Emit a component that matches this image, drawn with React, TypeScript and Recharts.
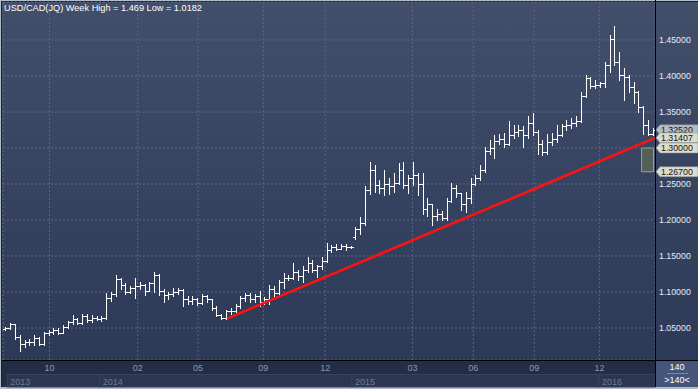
import React from 'react';
import {
  Bar,
  CartesianGrid,
  ComposedChart,
  Line,
  ReferenceArea,
  ReferenceLine,
  XAxis,
  YAxis,
} from 'recharts';

// weekly bars, USD/CAD, Aug 2013 .. Mar 2016
const OPEN = [
  1.048, 1.050, 1.055, 1.038, 1.028, 1.030, 1.031, 1.036, 1.028, 1.043,
  1.044, 1.047, 1.043, 1.052, 1.058, 1.062, 1.057, 1.066, 1.061, 1.064,
  1.063, 1.064, 1.092, 1.097, 1.118, 1.110, 1.100, 1.105, 1.108, 1.110,
  1.102, 1.112, 1.124, 1.102, 1.096, 1.097, 1.100, 1.103, 1.090, 1.087,
  1.090, 1.085, 1.094, 1.090, 1.078, 1.068, 1.064, 1.073, 1.074, 1.080,
  1.091, 1.096, 1.090, 1.094, 1.086, 1.090, 1.104, 1.098, 1.114, 1.120,
  1.119, 1.128, 1.122, 1.130, 1.140, 1.131, 1.136, 1.143, 1.158, 1.162,
  1.160, 1.164, 1.162, 1.176, 1.188, 1.196, 1.241, 1.270, 1.249, 1.245,
  1.250, 1.247, 1.252, 1.270, 1.248, 1.258, 1.262, 1.250, 1.215, 1.222,
  1.205, 1.208, 1.203, 1.226, 1.244, 1.238, 1.222, 1.230, 1.250, 1.258,
  1.270, 1.296, 1.300, 1.310, 1.312, 1.306, 1.318, 1.322, 1.325, 1.318,
  1.335, 1.322, 1.305, 1.294, 1.308, 1.313, 1.318, 1.330, 1.332, 1.335,
  1.338, 1.372, 1.397, 1.386, 1.388, 1.390, 1.415, 1.452, 1.420, 1.402,
  1.398, 1.385, 1.378, 1.357, 1.332, 1.320,
];
const HIGH = [
  1.052, 1.057, 1.056, 1.040, 1.034, 1.035, 1.040, 1.038, 1.045, 1.047,
  1.050, 1.050, 1.054, 1.060, 1.068, 1.064, 1.070, 1.070, 1.068, 1.066,
  1.067, 1.098, 1.100, 1.123, 1.120, 1.112, 1.109, 1.120, 1.114, 1.111,
  1.114, 1.128, 1.125, 1.104, 1.100, 1.105, 1.106, 1.104, 1.095, 1.094,
  1.091, 1.097, 1.096, 1.090, 1.080, 1.069, 1.075, 1.078, 1.083, 1.094,
  1.099, 1.098, 1.097, 1.101, 1.093, 1.110, 1.109, 1.117, 1.126, 1.124,
  1.140, 1.131, 1.136, 1.148, 1.144, 1.138, 1.148, 1.168, 1.165, 1.166,
  1.166, 1.166, 1.164, 1.190, 1.204, 1.247, 1.281, 1.276, 1.255, 1.269,
  1.258, 1.265, 1.279, 1.281, 1.262, 1.281, 1.265, 1.265, 1.230, 1.222,
  1.215, 1.212, 1.230, 1.251, 1.249, 1.238, 1.239, 1.258, 1.262, 1.276,
  1.302, 1.311, 1.318, 1.320, 1.321, 1.337, 1.332, 1.332, 1.331, 1.344,
  1.348, 1.325, 1.311, 1.320, 1.321, 1.332, 1.334, 1.339, 1.342, 1.344,
  1.378, 1.401, 1.399, 1.394, 1.392, 1.420, 1.457, 1.469, 1.434, 1.411,
  1.401, 1.392, 1.379, 1.358, 1.339, 1.328,
];
const LOW = [
  1.047, 1.049, 1.035, 1.018, 1.024, 1.027, 1.027, 1.026, 1.026, 1.040,
  1.041, 1.041, 1.043, 1.050, 1.056, 1.055, 1.056, 1.058, 1.059, 1.061,
  1.060, 1.062, 1.088, 1.095, 1.104, 1.097, 1.099, 1.092, 1.104, 1.096,
  1.101, 1.100, 1.096, 1.086, 1.090, 1.094, 1.097, 1.081, 1.083, 1.084,
  1.082, 1.084, 1.086, 1.075, 1.066, 1.062, 1.062, 1.070, 1.072, 1.078,
  1.088, 1.086, 1.086, 1.080, 1.084, 1.083, 1.095, 1.097, 1.105, 1.116,
  1.118, 1.117, 1.114, 1.128, 1.128, 1.121, 1.132, 1.142, 1.155, 1.158,
  1.160, 1.158, 1.161, 1.174, 1.180, 1.193, 1.236, 1.239, 1.237, 1.235,
  1.236, 1.239, 1.250, 1.245, 1.237, 1.248, 1.235, 1.209, 1.205, 1.193,
  1.200, 1.200, 1.200, 1.225, 1.232, 1.214, 1.211, 1.224, 1.248, 1.256,
  1.266, 1.292, 1.286, 1.305, 1.302, 1.304, 1.314, 1.316, 1.302, 1.314,
  1.318, 1.292, 1.290, 1.292, 1.304, 1.309, 1.317, 1.325, 1.328, 1.330,
  1.336, 1.371, 1.383, 1.383, 1.385, 1.385, 1.406, 1.415, 1.394, 1.367,
  1.378, 1.362, 1.350, 1.320, 1.318, 1.318,
];
const CLOSE = [
  1.050, 1.055, 1.038, 1.028, 1.030, 1.031, 1.036, 1.028, 1.043, 1.044,
  1.047, 1.043, 1.052, 1.058, 1.062, 1.057, 1.066, 1.061, 1.064, 1.063,
  1.064, 1.092, 1.097, 1.118, 1.110, 1.100, 1.105, 1.108, 1.110, 1.102,
  1.112, 1.124, 1.102, 1.096, 1.097, 1.100, 1.103, 1.090, 1.087, 1.090,
  1.085, 1.094, 1.090, 1.078, 1.068, 1.064, 1.073, 1.074, 1.080, 1.091,
  1.096, 1.090, 1.094, 1.086, 1.090, 1.104, 1.098, 1.114, 1.120, 1.119,
  1.128, 1.122, 1.130, 1.140, 1.131, 1.136, 1.143, 1.158, 1.162, 1.160,
  1.164, 1.162, 1.163, 1.188, 1.196, 1.241, 1.270, 1.249, 1.245, 1.250,
  1.247, 1.252, 1.270, 1.248, 1.258, 1.262, 1.250, 1.215, 1.222, 1.205,
  1.208, 1.203, 1.226, 1.244, 1.238, 1.222, 1.230, 1.250, 1.258, 1.270,
  1.296, 1.300, 1.310, 1.312, 1.306, 1.318, 1.322, 1.325, 1.318, 1.335,
  1.322, 1.305, 1.294, 1.308, 1.313, 1.318, 1.330, 1.332, 1.335, 1.338,
  1.372, 1.397, 1.386, 1.388, 1.390, 1.415, 1.452, 1.420, 1.402, 1.398,
  1.385, 1.378, 1.357, 1.332, 1.320, 1.3252,
];

const PRICE_TICKS = [1.05, 1.1, 1.15, 1.2, 1.25, 1.3, 1.35, 1.4, 1.45];
// month ticks, in bar units
const MONTH_TICKS = [9.2, 27.6, 40.2, 53.8, 66.7, 84.9, 97.6, 110.3, 123.9];
const MONTH_LABELS = ['10', '02', '05', '09', '12', '03', '06', '09', '12'];
const YEAR_STARTS = [0.4, 19.7, 72.3, 123.8];
const YEAR_LABELS = ['2013', '2014', '2015', '2016'];
const YEAR_END = 135.5;

const TREND = [
  { i: 46.2, trend: 1.063 },
  { i: 135.5, trend: 1.314 },
];
const TAGS = [
  { value: 1.3252, text: '1.32520', dim: true },
  { value: 1.31407, text: '1.31407', dim: false },
  { value: 1.3, text: '1.30000', dim: false },
  { value: 1.267, text: '1.26700', dim: false },
];
const ZONE = { from: 132.7, to: 135.2, low: 1.267, high: 1.3 };

const W = 698;
const H = 389;
const PLOT_LEFT = 3;
const PLOT_RIGHT = 655;
const PLOT_BOTTOM = 360;
const BAR_W = (PLOT_RIGHT - PLOT_LEFT) / CLOSE.length;
const FONT = "'Liberation Sans', Arial, sans-serif";

const rows = CLOSE.map((c, i) => ({
  i,
  open: OPEN[i],
  high: HIGH[i],
  low: LOW[i],
  close: c,
  range: [LOW[i], HIGH[i]],
}));

// one OHLC bar: high-low stem, open tick left, close tick right
const OhlcShape = (props: any) => {
  const { x, y, width, height, payload } = props;
  if (x == null || y == null || !payload) return <g />;
  const top = Math.min(y, y + height);
  const bot = Math.max(y, y + height);
  const span = payload.high - payload.low || 1;
  const toY = (v: number) => top + ((payload.high - v) / span) * (bot - top);
  const cx = Math.round(x + width / 2) + 0.5;
  const oy = Math.round(toY(payload.open)) + 0.5;
  const cy = Math.round(toY(payload.close)) + 0.5;
  return (
    <g stroke="#ffffff" strokeWidth={1}>
      <line x1={cx} y1={Math.round(top)} x2={cx} y2={Math.round(bot) + 1} />
      <line x1={cx - 2.5} y1={oy} x2={cx} y2={oy} />
      <line x1={cx} y1={cy} x2={cx + 2.5} y2={cy} />
    </g>
  );
};

const PriceTick = (props: any) => {
  const { x, y, payload } = props;
  if (TAGS.some((t) => Math.abs(t.value - payload.value) < 1e-9)) return <g />;
  return (
    <text x={x} y={y} dy="0.36em" fill="#e8ecf4" fontSize={8.8} fontFamily={FONT}>
      {Number(payload.value).toFixed(5)}
    </text>
  );
};

const MonthTick = (props: any) => {
  const { x, y, payload } = props;
  const k = MONTH_TICKS.indexOf(payload.value);
  return (
    <text x={x} y={y} dy="0.71em" textAnchor="middle" fill="#8c96ab" fontSize={9} fontFamily={FONT}>
      {MONTH_LABELS[k]}
    </text>
  );
};

const YearTick = (props: any) => {
  const { x, y, payload } = props;
  const k = YEAR_STARTS.indexOf(payload.value);
  const end = k + 1 < YEAR_STARTS.length ? YEAR_STARTS[k + 1] : YEAR_END;
  const w = (end - payload.value) * BAR_W;
  return (
    <g>
      <rect x={x} y={y + 0.5} width={w} height={12.5} fill="#2c3651" stroke="#37425e" strokeWidth={1} />
      <text x={x + 3} y={y + 10.5} fill="#6f7a93" fontSize={9} fontFamily={FONT}>
        {YEAR_LABELS[k]}
      </text>
    </g>
  );
};

const PriceTag = (props: any) => {
  const { viewBox, text, dim } = props;
  if (!viewBox) return null;
  const x0 = viewBox.x + viewBox.width + 1;
  const cy = viewBox.y;
  const pts = `${x0},${cy} ${x0 + 4},${cy - 5} ${W},${cy - 5} ${W},${cy + 5} ${x0 + 4},${cy + 5}`;
  return (
    <g>
      <polygon points={pts} fill={dim ? '#b7bbc3' : '#dcdccb'} stroke="#8a8f98" strokeWidth={0.5} />
      <text x={x0 + 5} y={cy} dy="0.36em" fill="#141414" fontSize={8.8} fontFamily={FONT}>
        {text}
      </text>
    </g>
  );
};

const box = (style: React.CSSProperties): React.CSSProperties => ({ position: 'absolute', ...style });

export default function App() {
  return (
    <div style={box({ left: 0, top: 0, width: W, height: H, background: '#b6bdca', overflow: 'hidden' })}>
      <div style={box({ left: 1, top: 1, width: W - 1, height: 386, background: '#1a2132' })} />
      <div
        style={box({
          left: 2,
          top: 2,
          width: W - 2,
          height: 385,
          background: 'linear-gradient(to bottom, #424f6b 0px, #2c3957 358px)',
        })}
      />
      <div style={box({ left: 2, top: 361, width: 653, height: 26, background: '#232d46' })} />
      <div style={box({ left: 656, top: 361, width: 42, height: 26, background: '#45547a' })} />

      <div style={box({ left: 0, top: 0 })}>
        <ComposedChart
          width={W}
          height={H}
          data={rows}
          margin={{ top: 2, right: 0, bottom: 2, left: PLOT_LEFT }}
        >
          <CartesianGrid xAxisId="time" stroke="#5a6682" strokeDasharray="2 2" />
          <XAxis xAxisId="cat" dataKey="i" type="category" hide height={0} />
          <XAxis
            xAxisId="time"
            dataKey="i"
            type="number"
            domain={[-0.5, YEAR_END]}
            ticks={MONTH_TICKS}
            interval={0}
            height={14}
            axisLine={false}
            tickLine={false}
            tickSize={3}
            tickMargin={2}
            tick={<MonthTick />}
            allowDataOverflow
          />
          <XAxis
            xAxisId="year"
            dataKey="i"
            type="number"
            domain={[-0.5, YEAR_END]}
            ticks={YEAR_STARTS}
            interval={0}
            height={13}
            axisLine={false}
            tickLine={false}
            tickSize={0}
            tickMargin={0}
            tick={<YearTick />}
            allowDataOverflow
          />
          <YAxis
            orientation="right"
            width={43}
            domain={[1.00556, 1.50278]}
            ticks={PRICE_TICKS}
            interval={0}
            axisLine={false}
            tickLine={false}
            tickSize={2}
            tickMargin={2}
            tick={<PriceTick />}
            allowDataOverflow
          />
          <ReferenceArea
            xAxisId="time"
            x1={ZONE.from}
            x2={ZONE.to}
            y1={ZONE.low}
            y2={ZONE.high}
            fill="#555f55"
            fillOpacity={1}
            stroke="#9aa096"
            strokeWidth={1}
          />
          <Bar xAxisId="cat" dataKey="range" shape={<OhlcShape />} isAnimationActive={false} />
          <Line
            xAxisId="time"
            data={TREND}
            dataKey="trend"
            stroke="#ff1111"
            strokeWidth={2.6}
            dot={false}
            activeDot={false}
            isAnimationActive={false}
          />
          {TAGS.map((t) => (
            <ReferenceLine
              key={t.text}
              xAxisId="time"
              y={t.value}
              stroke="none"
              ifOverflow="visible"
              label={<PriceTag text={t.text} dim={t.dim} />}
            />
          ))}
        </ComposedChart>
      </div>

      <div style={box({ left: PLOT_RIGHT, top: 0, width: 1.3, height: 387, background: '#000' })} />
      <div style={box({ left: 2, top: PLOT_BOTTOM, width: W - 2, height: 1.3, background: '#000' })} />

      <div
        style={box({
          left: 4,
          top: 3,
          color: '#ffffff',
          fontFamily: FONT,
          fontSize: 9.2,
          lineHeight: '11px',
          whiteSpace: 'nowrap',
        })}
      >
        USD/CAD(JQ) Week High = 1.469 Low = 1.0182
      </div>
      <div style={box({ left: 656, top: 362, width: 42, textAlign: 'center', color: '#fff', fontFamily: FONT, fontSize: 9, lineHeight: '11px' })}>
        140
      </div>
      <div style={box({ left: 667, top: 373, width: 21, height: 1, background: '#7b88a3' })} />
      <div style={box({ left: 656, top: 375, width: 42, textAlign: 'center', color: '#fff', fontFamily: FONT, fontSize: 9, lineHeight: '11px' })}>
        {'>140<'}
      </div>
    </div>
  );
}
